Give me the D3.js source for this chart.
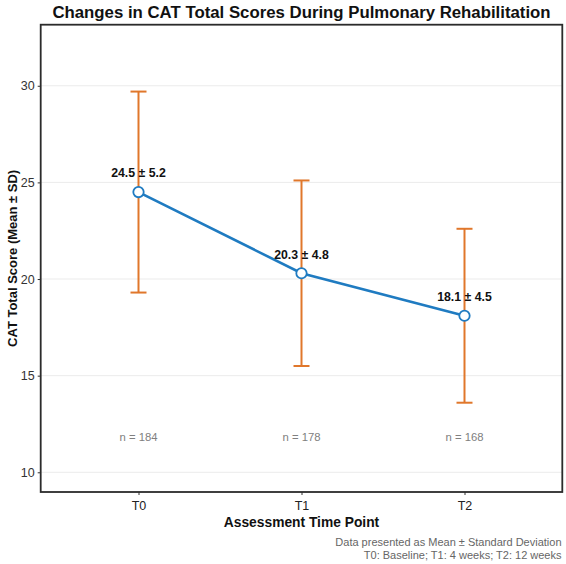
<!DOCTYPE html>
<html><head><meta charset="utf-8">
<script src="https://cdn.jsdelivr.net/npm/d3@7"></script>
<style>body{margin:0;background:#fff;} text{font-family:"Liberation Sans",Arial,sans-serif;}</style>
</head><body>
<svg id="c" width="566" height="564"></svg>
<script>
const categories = ["T0","T1","T2"];
const means = [24.5, 20.3, 18.1];
const sds = [5.2, 4.8, 4.5];
const ns = [184, 178, 168];
const yTicks = [10, 15, 20, 25, 30];
const nLabelY = 12;

const svg = d3.select("#c");
const L = 40.7, R = 562.3, T = 24.7, B = 492;
const x = d3.scalePoint().domain(categories).range([L, R]).padding(0.6);
const y = d3.scaleLinear().domain([8.98, 33.16]).range([B, T]);

svg.append("rect").attr("width",566).attr("height",564).attr("fill","#fff");

// grid
svg.append("g").selectAll("line").data(yTicks).join("line")
  .attr("x1",L).attr("x2",R).attr("y1",d=>y(d)).attr("y2",d=>y(d))
  .attr("stroke","#EBEBEB").attr("stroke-width",1);

// axes
const ya = svg.append("g").attr("transform",`translate(${L},0)`)
  .call(d3.axisLeft(y).tickValues(yTicks).tickSize(3).tickPadding(3));
ya.select(".domain").remove();
ya.selectAll("line").attr("stroke","#333");
ya.selectAll("text").attr("fill","#333").attr("font-size","12.5px").style("font-family","Liberation Sans, Arial, sans-serif");

const xa = svg.append("g").attr("transform",`translate(0,${B})`)
  .call(d3.axisBottom(x).tickSize(3).tickPadding(6));
xa.select(".domain").remove();
xa.selectAll("line").attr("stroke","#333");
xa.selectAll("text").attr("fill","#222").attr("font-size","12.5px").style("font-family","Liberation Sans, Arial, sans-serif");

// error bars
const eb = svg.append("g");
const data = categories.map((c,i)=>({c, m:means[i], s:sds[i], n:ns[i]}));
const orange = "#E0772B", blue = "#1F7BC1";
eb.selectAll("line.v").data(data).join("line").attr("class","v")
  .attr("x1",d=>x(d.c)).attr("x2",d=>x(d.c))
  .attr("y1",d=>y(d.m-d.s)).attr("y2",d=>y(d.m+d.s))
  .attr("stroke",orange).attr("stroke-width",2);
["lo","hi"].forEach(k=>{
  eb.selectAll("line."+k).data(data).join("line").attr("class",k)
    .attr("x1",d=>x(d.c)-8).attr("x2",d=>x(d.c)+8)
    .attr("y1",d=>y(k==="lo"?d.m-d.s:d.m+d.s)).attr("y2",d=>y(k==="lo"?d.m-d.s:d.m+d.s))
    .attr("stroke",orange).attr("stroke-width",2);
});

// line
svg.append("path").datum(data)
  .attr("d", d3.line().x(d=>x(d.c)).y(d=>y(d.m)))
  .attr("fill","none").attr("stroke",blue).attr("stroke-width",2.6);

// points
svg.append("g").selectAll("circle").data(data).join("circle")
  .attr("cx",d=>x(d.c)).attr("cy",d=>y(d.m)).attr("r",5.2)
  .attr("fill","#fff").attr("stroke",blue).attr("stroke-width",1.8);

// value labels
svg.append("g").selectAll("text").data(data).join("text")
  .attr("x",d=>x(d.c)).attr("y",d=>y(d.m)-19).attr("dy","0.35em")
  .attr("text-anchor","middle").attr("font-weight","bold").attr("font-size","12.3px").attr("fill","#111")
  .text(d=>`${d.m.toFixed(1)} ± ${d.s.toFixed(1)}`);

// n labels
svg.append("g").selectAll("text").data(data).join("text")
  .attr("x",d=>x(d.c)).attr("y",y(nLabelY)+3).attr("dy","0.35em")
  .attr("text-anchor","middle").attr("font-size","11.3px").attr("fill","#808080")
  .text(d=>`n = ${d.n}`);

// border
svg.append("rect").attr("x",L).attr("y",T).attr("width",R-L).attr("height",B-T)
  .attr("fill","none").attr("stroke","#2b2b2b").attr("stroke-width",1.8);

// titles
svg.append("text").attr("x",(L+R)/2).attr("y",12).attr("dy","0.35em")
  .attr("text-anchor","middle").attr("font-weight","bold").attr("font-size","16.8px").attr("fill","#111")
  .text("Changes in CAT Total Scores During Pulmonary Rehabilitation");
svg.append("text").attr("x",(L+R)/2).attr("y",522).attr("dy","0.35em")
  .attr("text-anchor","middle").attr("font-weight","bold").attr("font-size","13.8px").attr("fill","#111")
  .text("Assessment Time Point");
svg.append("text").attr("transform",`translate(12,${(T+B)/2}) rotate(-90)`).attr("dy","0.35em")
  .attr("text-anchor","middle").attr("font-weight","bold").attr("font-size","13px").attr("fill","#111")
  .text("CAT Total Score (Mean ± SD)");
svg.append("text").attr("x",561.5).attr("y",541.7).attr("dy","0.35em")
  .attr("text-anchor","end").attr("font-size","11px").attr("fill","#666")
  .text("Data presented as Mean ± Standard Deviation");
svg.append("text").attr("x",561.5).attr("y",555).attr("dy","0.35em")
  .attr("text-anchor","end").attr("font-size","11px").attr("fill","#666")
  .text("T0: Baseline; T1: 4 weeks; T2: 12 weeks");
</script>
</body></html>
